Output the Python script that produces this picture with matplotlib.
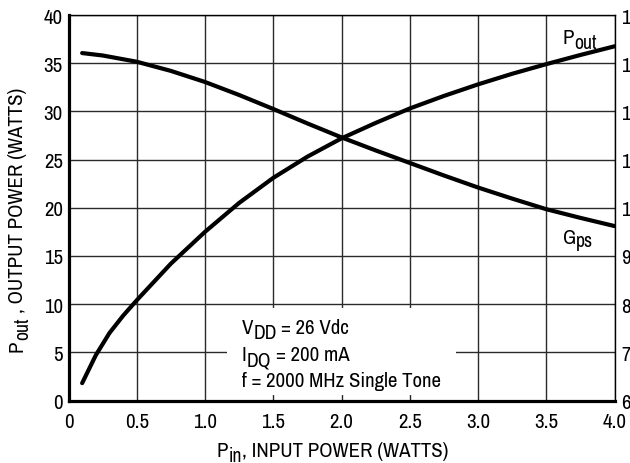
import matplotlib
matplotlib.use("Agg")
import matplotlib.pyplot as plt
import matplotlib.transforms as mtrans
from matplotlib import font_manager as fm
from matplotlib.patches import Rectangle

_avail = set(f.name for f in fm.fontManager.ttflist)
FONT = next((f for f in ['Liberation Sans Narrow', 'Archivo Narrow', 'Roboto Condensed',
                         'Barlow Semi Condensed', 'Liberation Sans'] if f in _avail), 'DejaVu Sans')
plt.rcParams['font.family'] = [FONT, 'DejaVu Sans']

# ---- data ----
pin_pout = [0.1, 0.2, 0.3, 0.4, 0.5, 0.75, 1.0, 1.25, 1.5, 1.75, 2.0, 2.25, 2.5, 2.75, 3.0, 3.25, 3.5, 3.75, 4.0]
pout = [1.8, 4.7, 7.0, 8.8, 10.4, 14.2, 17.5, 20.5, 23.1, 25.3, 27.2, 28.8, 30.3, 31.6, 32.8, 33.9, 34.9, 35.85, 36.75]
pin_gps = [0.1, 0.25, 0.5, 0.75, 1.0, 1.25, 1.5, 1.75, 2.0, 2.25, 2.5, 2.75, 3.0, 3.25, 3.5, 3.75, 4.0]
gps = [13.21, 13.16, 13.03, 12.84, 12.61, 12.34, 12.05, 11.75, 11.46, 11.19, 10.93, 10.67, 10.42, 10.19, 9.97, 9.79, 9.62]

xticks = [0, 0.5, 1.0, 1.5, 2.0, 2.5, 3.0, 3.5, 4.0]
xticklabels = ['0', '0.5', '1.0', '1.5', '2.0', '2.5', '3.0', '3.5', '4.0']
yticks = [0, 5, 10, 15, 20, 25, 30, 35, 40]
y2ticks = [6, 7, 8, 9, 10, 11, 12, 13, 14]

W, H = 630, 464
fig = plt.figure(figsize=(W / 100, H / 100), dpi=100)
ax = fig.add_axes([68.5 / W, (H - 401.5) / H, 546 / W, 385.5 / H])
ax2 = ax.twinx()

ax.set_xlim(0, 4)
ax.set_ylim(0, 40)
ax2.set_ylim(6, 14)
ax.set_xticks(xticks)
ax.set_xticklabels(xticklabels)
ax.set_yticks(yticks)
ax2.set_yticks(y2ticks)

FS = 15
ax.grid(True, color='#2a2a2a', linewidth=1.0)
ax.set_axisbelow(True)
ax.tick_params(axis='x', length=0, labelsize=FS, pad=8.5)
ax.tick_params(axis='y', length=0, labelsize=FS, pad=4)
ax2.tick_params(axis='y', length=0, labelsize=FS, pad=5)

for s in ['left', 'bottom']:
    ax.spines[s].set_linewidth(2.3)
for s in ['top', 'right']:
    ax.spines[s].set_linewidth(1.0)
for s in ax2.spines.values():
    s.set_visible(False)

# white box behind the test-condition text
ax.add_patch(Rectangle((1.16, 0.6), 1.68, 9.0, facecolor='white', edgecolor='none', zorder=1.5))

ax.plot(pin_pout, pout, color='black', linewidth=3.0, zorder=3, solid_capstyle='round')
ax2.plot(pin_gps, gps, color='black', linewidth=3.0, zorder=3, solid_capstyle='round')

renderer = fig.canvas.get_renderer()
ident = mtrans.IdentityTransform()


def rich(parts, x, y, size=FS, rot=0, center=False):
    """parts: list of (text, is_sub, gap_px, drop_px). x, y in pixels from bottom-left
    (for rot=0: x = start/centre, y = baseline; for rot=90: x = baseline, y = start/centre)."""
    items = []
    for s, sub, gap, drop in parts:
        fs = size * 0.95 if sub else size
        t = fig.text(0, 0, s, fontsize=fs, rotation=rot, rotation_mode='anchor',
                     ha='left', va='baseline', transform=ident, zorder=5)
        bb = t.get_window_extent(renderer)
        L = bb.height if rot == 90 else bb.width
        items.append((t, gap, drop, L))
    total = sum(g + L for _, g, _, L in items)
    pos = (x if rot == 0 else y)
    if center:
        pos -= total / 2
    for t, gap, drop, L in items:
        pos += gap
        if rot == 0:
            t.set_position((pos, y - drop))
        else:
            t.set_position((x + drop, pos))
        pos += L


# test conditions
rich([('V', False, 0, 0), ('DD', True, 0.5, 5.5), ('= 26 Vdc', False, 4.5, 0)], 241.5, H - 334)
rich([('I', False, 0, 0), ('DQ', True, 0.5, 5.5), ('= 200 mA', False, 4.5, 0)], 241.5, H - 361)
rich([('f = 2000 MHz Single Tone', False, 0, 0)], 241.5, H - 387.5)

# curve labels
rich([('P', False, 0, 0), ('out', True, 0.5, 4.5)], 562.5, H - 44.3)
rich([('G', False, 0, 0), ('ps', True, 0.5, 2.5)], 562.5, H - 244.3)

# axis labels
rich([('P', False, 0, 0), ('in', True, 0.5, 5.0), (', INPUT POWER (WATTS)', False, 0, 0)],
     332.7, H - 456.7, center=True)
rich([('P', False, 0, 0), ('out', True, 0.5, 5.5), (', OUTPUT POWER (WATTS)', False, 4.0, 0)],
     22.7, H - 220, rot=90, center=True)

fig.savefig('out.png', dpi=100)
